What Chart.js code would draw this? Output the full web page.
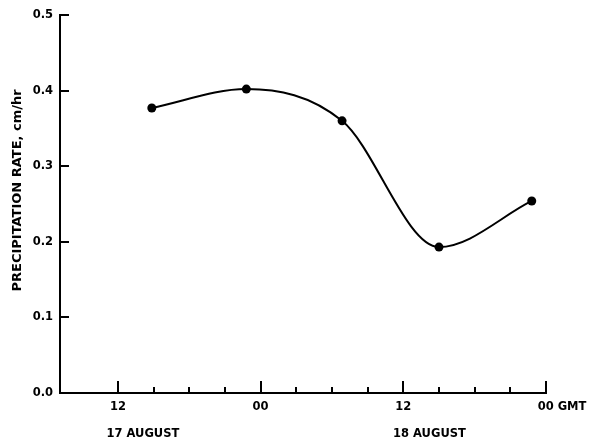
<!DOCTYPE html>
<html><head><meta charset="utf-8">
<script src="https://cdn.jsdelivr.net/npm/chart.js@4"></script>
<style>html,body{margin:0;padding:0;background:#fff}</style>
</head><body>
<canvas id="c" width="602" height="442" style="display:block;width:602px;height:442px"></canvas>
<script>
// Data (x = hours after 00 GMT, 17 August)
const hours = [14.85, 22.8, 30.85, 39.0, 46.8];
const rates = [0.377, 0.402, 0.360, 0.193, 0.254];
const timeTicks = [12, 15, 18, 21, 24, 27, 30, 33, 36, 39, 42, 45, 48];
const majorTicks = [12, 24, 36, 48];
const majorLabels = ['12', '00', '12', '00 GMT'];
const dayPositions = [14.1, 38.2];
const dayLabels = ['17 AUGUST', '18 AUGUST'];
const rateTicks = [0, 0.1, 0.2, 0.3, 0.4, 0.5];
const yTitle = 'PRECIPITATION RATE, cm/hr';

const FAMILY = '"DejaVu Sans", "Liberation Sans", sans-serif';
const FONT = {family: FAMILY, size: 11.5, weight: 'bold'};

const inwardTicks = {
  id: 'inwardTicks',
  afterDraw(chart) {
    const ctx = chart.ctx, xs = chart.scales.x, ys = chart.scales.y;
    const area = chart.chartArea;
    ctx.save();
    ctx.strokeStyle = '#000';
    ctx.lineWidth = 2;
    ctx.beginPath();
    timeTicks.forEach(t => {
      const px = Math.round(xs.getPixelForValue(t));
      const len = majorTicks.includes(t) ? 12 : 6;
      ctx.moveTo(px, area.bottom);
      ctx.lineTo(px, area.bottom - len);
    });
    rateTicks.forEach(v => {
      if (v === 0) return;
      const py = Math.round(ys.getPixelForValue(v));
      ctx.moveTo(area.left, py);
      ctx.lineTo(area.left + 9, py);
    });
    ctx.stroke();
    ctx.restore();
  }
};

new Chart(document.getElementById('c'), {
  type: 'line',
  data: {
    datasets: [{
      data: hours.map((h, i) => ({x: h, y: rates[i]})),
      borderColor: '#000',
      backgroundColor: '#000',
      borderWidth: 2,
      pointRadius: 4.5,
      pointBackgroundColor: '#000',
      pointBorderWidth: 0,
      cubicInterpolationMode: 'monotone',
      fill: false
    }]
  },
  options: {
    responsive: false,
    animation: false,
    devicePixelRatio: 1,
    layout: {padding: {top: 15, right: 56, left: 0, bottom: 0}},
    plugins: {legend: {display: false}, tooltip: {enabled: false}},
    scales: {
      x: {
        type: 'linear', position: 'bottom', weight: 0,
        min: 7.13, max: 48,
        afterBuildTicks: s => { s.ticks = timeTicks.map(v => ({value: v})); },
        afterFit: s => { s.height = 26; },
        grid: {display: false, drawTicks: false},
        border: {display: true, color: '#000', width: 2},
        ticks: {
          autoSkip: false, maxRotation: 0, padding: 7, color: '#000', font: FONT,
          callback: v => {
            const i = majorTicks.indexOf(v);
            if (i < 0) return '';
            const lab = majorLabels[i];
            return lab.length > 2 ? '\u2007\u2007\u2007\u2007' + lab : lab;
          }
        }
      },
      x2: {
        type: 'linear', position: 'bottom', weight: 1,
        min: 7.13, max: 48,
        afterBuildTicks: s => { s.ticks = dayPositions.map(v => ({value: v})); },
        afterFit: s => { s.height = 23; },
        grid: {display: false, drawTicks: false},
        border: {display: false},
        ticks: {
          autoSkip: false, maxRotation: 0, padding: 8, color: '#000', font: FONT,
          callback: v => { const i = dayPositions.indexOf(v); return i < 0 ? '' : dayLabels[i]; }
        }
      },
      y: {
        type: 'linear', position: 'left',
        min: 0, max: 0.5,
        afterBuildTicks: s => { s.ticks = rateTicks.map(v => ({value: v})); },
        afterFit: s => { s.width = 60; },
        grid: {display: false, drawTicks: false},
        border: {display: true, color: '#000', width: 2},
        ticks: {padding: 7, color: '#000', font: FONT, callback: v => v.toFixed(1)},
        title: {
          display: true, text: '      ' + yTitle, color: '#000',
          font: {family: FAMILY, size: 13, weight: 'bold'},
          padding: {top: 10, bottom: 0}
        }
      }
    }
  },
  plugins: [inwardTicks]
});
</script>
</body></html>
